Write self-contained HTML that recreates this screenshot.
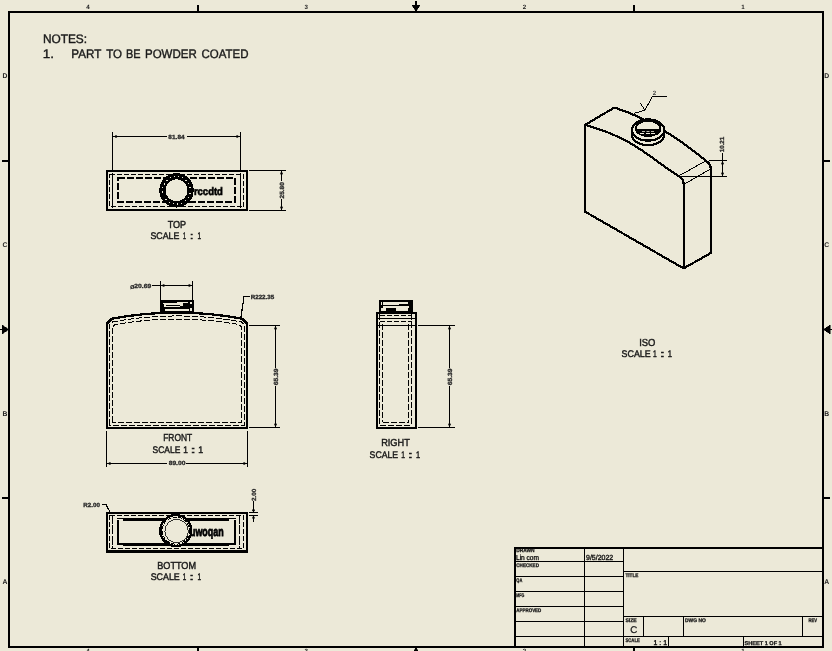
<!DOCTYPE html>
<html><head><meta charset="utf-8"><title>Drawing</title>
<style>
html,body{margin:0;padding:0;background:#ECE9D8;}
svg{display:block;will-change:transform;}
svg *{shape-rendering:crispEdges;}
text{shape-rendering:auto;text-rendering:geometricPrecision;}
text{font-family:"Liberation Sans",sans-serif;}
</style></head>
<body>
<svg width="832" height="651" viewBox="0 0 832 651">
<rect x="0" y="0" width="832" height="651" fill="#ECE9D8"/>
<g stroke="#000" fill="none" shape-rendering="crispEdges">
<rect x="9" y="12" width="814" height="635" stroke-width="2" fill="none"/>
<line x1="198" y1="5" x2="198" y2="11" stroke-width="2" />
<line x1="634" y1="5" x2="634" y2="11" stroke-width="2" />
<line x1="198" y1="648" x2="198" y2="651" stroke-width="2" />
<line x1="634" y1="648" x2="634" y2="651" stroke-width="2" />
<line x1="2" y1="161" x2="8" y2="161" stroke-width="2" />
<line x1="824" y1="161" x2="830" y2="161" stroke-width="2" />
<line x1="2" y1="498" x2="8" y2="498" stroke-width="2" />
<line x1="824" y1="498" x2="830" y2="498" stroke-width="2" />
</g>
<g fill="#000" stroke="#000">
<path d="M416 0.5 L416 6" stroke-width="1.6" fill="none" />
<path d="M412 5 L420 5 L416.5 11 L415.5 11 Z" stroke-width="0.5" fill="#000" />
<path d="M412 654 L420 654 L416.5 648 L415.5 648 Z" stroke-width="0.5" fill="#000" />
<path d="M0 329.5 L3 329.5" stroke-width="1.6" fill="none" />
<path d="M2 325 L2 334 L8 330 L8 329 Z" stroke-width="0.5" fill="#000" />
<path d="M832 329.5 L829 329.5" stroke-width="1.6" fill="none" />
<path d="M830 325 L830 334 L824 330 L824 329 Z" stroke-width="0.5" fill="#000" />
</g>
<g font-family="Liberation Sans" font-weight="bold" fill="#222">
<text x="88" y="9.4" font-size="6.2" text-anchor="middle" font-weight="bold" fill="#222" >4</text>
<text x="88" y="653.2" font-size="6.2" text-anchor="middle" font-weight="bold" fill="#222" >4</text>
<text x="306.3" y="9.4" font-size="6.2" text-anchor="middle" font-weight="bold" fill="#222" >3</text>
<text x="306.3" y="653.2" font-size="6.2" text-anchor="middle" font-weight="bold" fill="#222" >3</text>
<text x="524.4" y="9.4" font-size="6.2" text-anchor="middle" font-weight="bold" fill="#222" >2</text>
<text x="524.4" y="653.2" font-size="6.2" text-anchor="middle" font-weight="bold" fill="#222" >2</text>
<text x="742.9" y="9.4" font-size="6.2" text-anchor="middle" font-weight="bold" fill="#222" >1</text>
<text x="742.9" y="653.2" font-size="6.2" text-anchor="middle" font-weight="bold" fill="#222" >1</text>
<text x="5" y="77.9" font-size="6.8" text-anchor="middle" font-weight="bold" fill="#222" >D</text>
<text x="826.8" y="77.9" font-size="6.8" text-anchor="middle" font-weight="bold" fill="#222" >D</text>
<text x="5" y="246.9" font-size="6.8" text-anchor="middle" font-weight="bold" fill="#222" >C</text>
<text x="826.8" y="246.9" font-size="6.8" text-anchor="middle" font-weight="bold" fill="#222" >C</text>
<text x="5" y="415.9" font-size="6.8" text-anchor="middle" font-weight="bold" fill="#222" >B</text>
<text x="826.8" y="415.9" font-size="6.8" text-anchor="middle" font-weight="bold" fill="#222" >B</text>
<text x="5" y="583.9" font-size="6.8" text-anchor="middle" font-weight="bold" fill="#222" >A</text>
<text x="826.8" y="583.9" font-size="6.8" text-anchor="middle" font-weight="bold" fill="#222" >A</text>
</g>
<text x="42.93" y="42.9" font-size="12.3" font-weight="normal" fill="#1a1a1a" stroke="#1a1a1a" stroke-width="0.4" textLength="44.16" lengthAdjust="spacingAndGlyphs">NOTES:</text>
<text x="42.87" y="58.4" font-size="12.3" font-weight="normal" fill="#1a1a1a" stroke="#1a1a1a" stroke-width="0.4" textLength="11.26" lengthAdjust="spacingAndGlyphs">1.</text>
<text x="71.28" y="58.4" font-size="12.3" font-weight="normal" fill="#1a1a1a" stroke="#1a1a1a" stroke-width="0.4" textLength="29.98" lengthAdjust="spacingAndGlyphs">PART</text>
<text x="106.24" y="58.4" font-size="12.3" font-weight="normal" fill="#1a1a1a" stroke="#1a1a1a" stroke-width="0.4" textLength="15.8" lengthAdjust="spacingAndGlyphs">TO</text>
<text x="126.0" y="58.4" font-size="12.3" font-weight="normal" fill="#1a1a1a" stroke="#1a1a1a" stroke-width="0.4" textLength="14.56" lengthAdjust="spacingAndGlyphs">BE</text>
<text x="144.96" y="58.4" font-size="12.3" font-weight="normal" fill="#1a1a1a" stroke="#1a1a1a" stroke-width="0.4" textLength="51.78" lengthAdjust="spacingAndGlyphs">POWDER</text>
<text x="201.53" y="58.4" font-size="12.3" font-weight="normal" fill="#1a1a1a" stroke="#1a1a1a" stroke-width="0.4" textLength="47.01" lengthAdjust="spacingAndGlyphs">COATED</text>
<g stroke="#000" fill="none">
<rect x="107" y="171" width="140" height="39.3" stroke-width="2.1" fill="none" />
<rect x="109.5" y="174.5" width="134" height="32" stroke-width="1" fill="none" stroke-dasharray="5 2" />
<line x1="112.5" y1="173" x2="112.5" y2="208" stroke-width="1" />
<line x1="240.5" y1="173" x2="240.5" y2="208" stroke-width="1" />
<rect x="117.8" y="178.2" width="116.9" height="24" stroke-width="2.2" fill="none" stroke-dasharray="7 2" />
<circle cx="176.5" cy="190.3" r="15.8" stroke-width="2.8" fill="#ECE9D8"/>
<circle cx="176.5" cy="190.3" r="13.8" stroke-width="1.2" fill="none" stroke-dasharray="3 1.2"/>
<circle cx="176.5" cy="190.3" r="12.1" stroke-width="2.4" fill="#ECE9D8"/>
</g>
<text x="208.4" y="194.6" font-size="10.8" text-anchor="middle" font-weight="bold" fill="#000" stroke="#000" stroke-width="0.6" textLength="29" lengthAdjust="spacingAndGlyphs" >rccdtd</text>
<g stroke="#000" fill="none" shape-rendering="crispEdges">
<line x1="112.5" y1="132" x2="112.5" y2="170" stroke-width="1" />
<line x1="240.5" y1="132" x2="240.5" y2="170" stroke-width="1" />
<line x1="112.5" y1="136.5" x2="166.5" y2="136.5" stroke-width="1" />
<line x1="186.5" y1="136.5" x2="240.5" y2="136.5" stroke-width="1" />
<line x1="249" y1="170.5" x2="286" y2="170.5" stroke-width="1" />
<line x1="249" y1="210.5" x2="286" y2="210.5" stroke-width="1" />
<line x1="281.5" y1="170.5" x2="281.5" y2="181" stroke-width="1" />
<line x1="281.5" y1="199" x2="281.5" y2="210.5" stroke-width="1" />
</g>
<circle cx="116" cy="136.5" r="1.25" fill="#000" stroke="none" style="shape-rendering:auto"/>
<circle cx="237.2" cy="136.5" r="1.25" fill="#000" stroke="none" style="shape-rendering:auto"/>
<circle cx="281.5" cy="173.5" r="1.25" fill="#000" stroke="none" style="shape-rendering:auto"/>
<circle cx="281.5" cy="207.5" r="1.25" fill="#000" stroke="none" style="shape-rendering:auto"/>
<text x="168.39" y="138.6" font-size="6.0" text-anchor="start" font-weight="bold" fill="#2a2a2a" stroke="#2a2a2a" stroke-width="0.3" textLength="16.24" lengthAdjust="spacingAndGlyphs" >81.84</text>
<text x="-0.23" y="0" font-size="6.0" font-weight="bold" fill="#2a2a2a" stroke="#2a2a2a" stroke-width="0.3" textLength="16.4" lengthAdjust="spacingAndGlyphs" transform="translate(283.9 198.3) rotate(-90)">25.80</text>
<text x="167.7" y="227.5" font-size="10.2" text-anchor="start" font-weight="normal" fill="#1a1a1a" stroke="#1a1a1a" stroke-width="0.45" textLength="18.48" lengthAdjust="spacingAndGlyphs" >TOP</text>
<text x="150.5" y="238.6" font-size="9.6" text-anchor="start" font-weight="normal" fill="#1a1a1a" stroke="#1a1a1a" stroke-width="0.45" textLength="28.88" lengthAdjust="spacingAndGlyphs" >SCALE</text>
<text x="182.89" y="238.6" font-size="9.6" text-anchor="start" font-weight="normal" fill="#1a1a1a" stroke="#1a1a1a" stroke-width="0.45" textLength="2.97" lengthAdjust="spacingAndGlyphs" >1</text>
<text x="189.75" y="238.6" font-size="9.6" text-anchor="start" font-weight="normal" fill="#1a1a1a" stroke="#1a1a1a" stroke-width="0.45" textLength="3.79" lengthAdjust="spacingAndGlyphs" >:</text>
<text x="197.61" y="238.6" font-size="9.6" text-anchor="start" font-weight="normal" fill="#1a1a1a" stroke="#1a1a1a" stroke-width="0.45" textLength="3.61" lengthAdjust="spacingAndGlyphs" >1</text>
<g stroke="#000" fill="none">
<path d="M107.2 428.3 L107.2 323.2 L111.8 318.7 A353 353 0 0 1 242.2 318.7 L246.8 323.2 L246.8 428.3 Z" stroke-width="2.3" fill="none" />
<path d="M109.6 425.2 L109.6 324.6 L112.6 321.9 A353 353 0 0 1 241.4 321.9 L244.4 324.6 L244.4 425.2 Z" stroke-width="1" fill="none" stroke-dasharray="6 2" />
<path d="M112.4 422.4 L112.4 327 L115 324.6 A353 353 0 0 1 239 324.6 L241.6 327 L241.6 422.4 Z" stroke-width="1" fill="none" stroke-dasharray="6 2" />
<rect x="160" y="300" width="33.6" height="13" fill="#000" stroke="none"/>
<rect x="162.6" y="303" width="20.7" height="4" fill="#ECE9D8" stroke="none"/>
<rect x="177" y="302" width="10.5" height="1" fill="#ECE9D8" stroke="none"/>
<rect x="165" y="309" width="23.5" height="1.6" fill="#ECE9D8" stroke="none"/>
<rect x="190.2" y="302" width="1.6" height="2" fill="#ECE9D8" stroke="none"/>
<rect x="190.2" y="308.3" width="1.6" height="2.3" fill="#ECE9D8" stroke="none"/>
<path d="M166 305.5 L176 305.5 L183 306.5 M163.5 303.5 L163.5 307" stroke-width="1" fill="none" />
</g>
<g stroke="#000" fill="none" shape-rendering="crispEdges">
<line x1="160.5" y1="281" x2="160.5" y2="300" stroke-width="1" />
<line x1="192.5" y1="281" x2="192.5" y2="300" stroke-width="1" />
<line x1="152" y1="285.5" x2="192.5" y2="285.5" stroke-width="1" />
<line x1="249" y1="325.5" x2="280" y2="325.5" stroke-width="1" />
<line x1="249" y1="427.5" x2="280" y2="427.5" stroke-width="1" />
<line x1="275.5" y1="325.5" x2="275.5" y2="368" stroke-width="1" />
<line x1="275.5" y1="386" x2="275.5" y2="427.5" stroke-width="1" />
<line x1="106.5" y1="431" x2="106.5" y2="467" stroke-width="1" />
<line x1="247.5" y1="431" x2="247.5" y2="467" stroke-width="1" />
<line x1="106.5" y1="463.5" x2="167" y2="463.5" stroke-width="1" />
<line x1="186" y1="463.5" x2="247.5" y2="463.5" stroke-width="1" />
</g>
<g stroke="#000" fill="none">
<path d="M250 296.5 L244 296.5 L241 317" stroke-width="1.2" fill="none" />
</g>
<circle cx="163.6" cy="285.5" r="1.25" fill="#000" stroke="none" style="shape-rendering:auto"/>
<circle cx="189.4" cy="285.5" r="1.25" fill="#000" stroke="none" style="shape-rendering:auto"/>
<circle cx="275.5" cy="328.6" r="1.25" fill="#000" stroke="none" style="shape-rendering:auto"/>
<circle cx="275.5" cy="424.5" r="1.25" fill="#000" stroke="none" style="shape-rendering:auto"/>
<circle cx="109.8" cy="463.5" r="1.25" fill="#000" stroke="none" style="shape-rendering:auto"/>
<circle cx="244.2" cy="463.5" r="1.25" fill="#000" stroke="none" style="shape-rendering:auto"/>
<text x="134.37" y="288" font-size="6.0" text-anchor="start" font-weight="bold" fill="#2a2a2a" stroke="#2a2a2a" stroke-width="0.3" textLength="16.88" lengthAdjust="spacingAndGlyphs" >20.69</text>
<text x="132.3" y="288.6" font-size="7.5" text-anchor="middle" font-weight="bold" fill="#222" stroke="none" >&#248;</text>
<text x="250.68" y="298.9" font-size="6.0" text-anchor="start" font-weight="bold" fill="#2a2a2a" stroke="#2a2a2a" stroke-width="0.3" textLength="23.59" lengthAdjust="spacingAndGlyphs" >R222.35</text>
<text x="-0.25" y="0" font-size="6.0" font-weight="bold" fill="#2a2a2a" stroke="#2a2a2a" stroke-width="0.3" textLength="16.79" lengthAdjust="spacingAndGlyphs" transform="translate(277.6 385) rotate(-90)">65.39</text>
<text x="168.69" y="465.2" font-size="6.0" text-anchor="start" font-weight="bold" fill="#2a2a2a" stroke="#2a2a2a" stroke-width="0.3" textLength="16.69" lengthAdjust="spacingAndGlyphs" >89.00</text>
<text x="163.21" y="440.8" font-size="10.2" text-anchor="start" font-weight="normal" fill="#1a1a1a" stroke="#1a1a1a" stroke-width="0.45" textLength="28.98" lengthAdjust="spacingAndGlyphs" >FRONT</text>
<text x="152.62" y="452.6" font-size="9.6" text-anchor="start" font-weight="normal" fill="#1a1a1a" stroke="#1a1a1a" stroke-width="0.45" textLength="27.65" lengthAdjust="spacingAndGlyphs" >SCALE</text>
<text x="183.26" y="452.6" font-size="9.6" text-anchor="start" font-weight="normal" fill="#1a1a1a" stroke="#1a1a1a" stroke-width="0.45" textLength="4.64" lengthAdjust="spacingAndGlyphs" >1</text>
<text x="190.57" y="452.6" font-size="9.6" text-anchor="start" font-weight="normal" fill="#1a1a1a" stroke="#1a1a1a" stroke-width="0.45" textLength="5.25" lengthAdjust="spacingAndGlyphs" >:</text>
<text x="198.33" y="452.6" font-size="9.6" text-anchor="start" font-weight="normal" fill="#1a1a1a" stroke="#1a1a1a" stroke-width="0.45" textLength="4.9" lengthAdjust="spacingAndGlyphs" >1</text>
<g stroke="#000" fill="none">
<rect x="377.2" y="313" width="38.6" height="115.3" stroke-width="2.2" fill="none" />
<line x1="379.5" y1="314" x2="379.5" y2="425.2" stroke-width="1" stroke-dasharray="6 2" />
<line x1="411.5" y1="314" x2="411.5" y2="425.2" stroke-width="1" stroke-dasharray="6 2" />
<line x1="382.5" y1="324" x2="382.5" y2="422.4" stroke-width="1" stroke-dasharray="6 2" />
<line x1="408.7" y1="324" x2="408.7" y2="422.4" stroke-width="1" stroke-dasharray="6 2" />
<line x1="379.5" y1="315.7" x2="411.5" y2="315.7" stroke-width="1" stroke-dasharray="5 2" />
<line x1="379.5" y1="321.5" x2="411.5" y2="321.5" stroke-width="1" stroke-dasharray="5 2" />
<line x1="379.5" y1="425.2" x2="411.5" y2="425.2" stroke-width="1" stroke-dasharray="6 2" />
<line x1="382.5" y1="422.4" x2="408.7" y2="422.4" stroke-width="1" stroke-dasharray="6 2" />
<line x1="378" y1="318.7" x2="415" y2="318.7" stroke-width="1" />
<line x1="378" y1="325.5" x2="415" y2="325.5" stroke-width="1" />
<rect x="379.3" y="300.2" width="33.4" height="12.6" fill="#000" stroke="none"/>
<rect x="381" y="302" width="18" height="2.6" fill="#ECE9D8" stroke="none"/>
<rect x="399" y="302" width="9" height="1.5" fill="#ECE9D8" stroke="none"/>
<rect x="383" y="306.3" width="26.4" height="1.4" fill="#ECE9D8" stroke="none"/>
<rect x="396" y="307.7" width="12" height="2.9" fill="#ECE9D8" stroke="none"/>
<rect x="381" y="308" width="5" height="2.6" fill="#ECE9D8" stroke="none"/>
<path d="M382.5 302 L382.5 305" stroke-width="1" fill="none" />
</g>
<g stroke="#000" fill="none" shape-rendering="crispEdges">
<line x1="418" y1="325.5" x2="455" y2="325.5" stroke-width="1" />
<line x1="418" y1="427.5" x2="455" y2="427.5" stroke-width="1" />
<line x1="449.5" y1="325.5" x2="449.5" y2="368" stroke-width="1" />
<line x1="449.5" y1="386" x2="449.5" y2="427.5" stroke-width="1" />
</g>
<circle cx="449.5" cy="328.6" r="1.25" fill="#000" stroke="none" style="shape-rendering:auto"/>
<circle cx="449.5" cy="424.5" r="1.25" fill="#000" stroke="none" style="shape-rendering:auto"/>
<text x="-0.25" y="0" font-size="6.0" font-weight="bold" fill="#2a2a2a" stroke="#2a2a2a" stroke-width="0.3" textLength="16.79" lengthAdjust="spacingAndGlyphs" transform="translate(451.6 385) rotate(-90)">65.39</text>
<text x="381.14" y="445.8" font-size="10.2" text-anchor="start" font-weight="normal" fill="#1a1a1a" stroke="#1a1a1a" stroke-width="0.45" textLength="28.67" lengthAdjust="spacingAndGlyphs" >RIGHT</text>
<text x="369.61" y="457.8" font-size="9.6" text-anchor="start" font-weight="normal" fill="#1a1a1a" stroke="#1a1a1a" stroke-width="0.45" textLength="28.47" lengthAdjust="spacingAndGlyphs" >SCALE</text>
<text x="401.19" y="457.8" font-size="9.6" text-anchor="start" font-weight="normal" fill="#1a1a1a" stroke="#1a1a1a" stroke-width="0.45" textLength="3.74" lengthAdjust="spacingAndGlyphs" >1</text>
<text x="407.87" y="457.8" font-size="9.6" text-anchor="start" font-weight="normal" fill="#1a1a1a" stroke="#1a1a1a" stroke-width="0.45" textLength="5.25" lengthAdjust="spacingAndGlyphs" >:</text>
<text x="415.93" y="457.8" font-size="9.6" text-anchor="start" font-weight="normal" fill="#1a1a1a" stroke="#1a1a1a" stroke-width="0.45" textLength="4.13" lengthAdjust="spacingAndGlyphs" >1</text>
<g stroke="#000" fill="none">
<rect x="107.3" y="513.1" width="139.8" height="38.4" stroke-width="2.2" fill="none" />
<rect x="109.5" y="515.5" width="134" height="32.8" stroke-width="1" fill="none" stroke-dasharray="5 2" />
<line x1="112.8" y1="514.5" x2="112.8" y2="549" stroke-width="1" stroke-dasharray="9 1.5" />
<line x1="239.9" y1="514.5" x2="239.9" y2="549" stroke-width="1" stroke-dasharray="9 1.5" />
<line x1="117.8" y1="519.5" x2="117.8" y2="543.5" stroke-width="1.6" />
<line x1="235.1" y1="519.5" x2="235.1" y2="543.5" stroke-width="1.6" />
<line x1="117" y1="518.9" x2="123.4" y2="518.9" stroke-width="1.1" />
<line x1="229" y1="518.9" x2="236" y2="518.9" stroke-width="1.1" />
<line x1="123.4" y1="519.2" x2="229" y2="519.2" stroke-width="2.6" />
<line x1="117" y1="544" x2="123.4" y2="544" stroke-width="1.1" />
<line x1="229" y1="544" x2="236" y2="544" stroke-width="1.1" />
<line x1="123.4" y1="544.1" x2="229" y2="544.1" stroke-width="3" />
<circle cx="175.8" cy="530.6" r="15.5" stroke-width="2.4" fill="#ECE9D8"/>
<circle cx="175.8" cy="530.6" r="13.6" stroke-width="1" fill="none" stroke-dasharray="4 1.5"/>
<circle cx="176.6" cy="531" r="11.7" stroke-width="0.8" fill="#ECE9D8"/>
<path d="M160.5 526.8 L160.5 535.2" stroke-width="2.4" fill="none" />
</g>
<text x="206.8" y="536.2" font-size="13" text-anchor="middle" font-weight="bold" fill="#000" stroke="#000" stroke-width="0.8" textLength="33.6" lengthAdjust="spacingAndGlyphs" >uwoqan</text>
<g stroke="#000" fill="none">
<path d="M102 504.5 L106 504.5 L110 512" stroke-width="1.1" fill="none" />
</g>
<g stroke="#000" fill="none" shape-rendering="crispEdges">
<line x1="249" y1="512.5" x2="258" y2="512.5" stroke-width="1" />
<line x1="249" y1="515.5" x2="258" y2="515.5" stroke-width="1" />
<line x1="253.5" y1="501" x2="253.5" y2="512.5" stroke-width="1" />
<line x1="253.5" y1="515.5" x2="253.5" y2="522" stroke-width="1" />
</g>
<circle cx="253.5" cy="510.3" r="1.25" fill="#000" stroke="none" style="shape-rendering:auto"/>
<circle cx="253.5" cy="517.8" r="1.25" fill="#000" stroke="none" style="shape-rendering:auto"/>
<text x="83.28" y="506.7" font-size="6.0" text-anchor="start" font-weight="bold" fill="#2a2a2a" stroke="#2a2a2a" stroke-width="0.3" textLength="16.57" lengthAdjust="spacingAndGlyphs" >R2.00</text>
<text x="-0.22" y="0" font-size="6.0" font-weight="bold" fill="#2a2a2a" stroke="#2a2a2a" stroke-width="0.3" textLength="12.17" lengthAdjust="spacingAndGlyphs" transform="translate(256.3 500.7) rotate(-90)">2.00</text>
<text x="157.26" y="568.6" font-size="10.2" text-anchor="start" font-weight="normal" fill="#1a1a1a" stroke="#1a1a1a" stroke-width="0.45" textLength="38.79" lengthAdjust="spacingAndGlyphs" >BOTTOM</text>
<text x="150.7" y="580.3" font-size="9.6" text-anchor="start" font-weight="normal" fill="#1a1a1a" stroke="#1a1a1a" stroke-width="0.45" textLength="29.08" lengthAdjust="spacingAndGlyphs" >SCALE</text>
<text x="182.82" y="580.3" font-size="9.6" text-anchor="start" font-weight="normal" fill="#1a1a1a" stroke="#1a1a1a" stroke-width="0.45" textLength="3.48" lengthAdjust="spacingAndGlyphs" >1</text>
<text x="189.17" y="580.3" font-size="9.6" text-anchor="start" font-weight="normal" fill="#1a1a1a" stroke="#1a1a1a" stroke-width="0.45" textLength="4.67" lengthAdjust="spacingAndGlyphs" >:</text>
<text x="197.61" y="580.3" font-size="9.6" text-anchor="start" font-weight="normal" fill="#1a1a1a" stroke="#1a1a1a" stroke-width="0.45" textLength="3.61" lengthAdjust="spacingAndGlyphs" >1</text>
<g stroke="#000" fill="none" stroke-linejoin="round">
<path d="M584.8 126.8 L584.8 211.5 L683.6 268.4 L710.6 253.1 L710.6 167.5" stroke-width="2.2" fill="none" />
<path d="M683.6 268.4 L683.6 183" stroke-width="2.2" fill="none" />
<path d="M584.8 126.8 Q584.8 124.6 586.5 125.3 C636.7 139.3 652.8 160.7 679.8 176.85 Q683.6 179.1 683.6 183.5" stroke-width="2.2" fill="none" />
<path d="M585.6 124.6 L612.6 108.6 Q614.6 107.5 616.6 108.3 Q659.5 122.3 707.3 161.8 Q710.6 164.5 710.6 168" stroke-width="2.2" fill="none" />
<path d="M680.5 175 L705.2 161.2" stroke-width="1" fill="none" />
<path d="M684 184.3 L710.2 169.2" stroke-width="1" fill="none" />
<ellipse cx="648.05" cy="134.5" rx="16.2" ry="10.6" stroke-width="2.2" fill="#ECE9D8"/>
<rect x="632" y="130" width="32" height="4.5" stroke="none" fill="#ECE9D8"/>
<path d="M631.85 130 L631.85 134.5 M664.25 130 L664.25 134.5" stroke-width="2.2" fill="none" />
<ellipse cx="648.05" cy="130" rx="16.2" ry="10.6" stroke-width="2.2" fill="#ECE9D8"/>
<clipPath id="opn"><ellipse cx="648.1" cy="128.45" rx="12.35" ry="7.55"/></clipPath>
<ellipse cx="648.1" cy="128.45" rx="12.35" ry="7.55" stroke-width="2" fill="#ECE9D8"/>
<g clip-path="url(#opn)"><rect x="634" y="129" width="30" height="10" fill="#000" stroke="none"/><line x1="642" y1="131.5" x2="655" y2="131.5" stroke="#ECE9D8" stroke-width="0.8" stroke-dasharray="3 1.5"/><line x1="640" y1="133.8" x2="657" y2="133.8" stroke="#ECE9D8" stroke-width="1" stroke-dasharray="4 1.5"/></g>
</g>
<g stroke="#000" fill="none">
<path d="M667 96.5 L652.5 96.5 L644.7 110.3" stroke-width="1" fill="none" />
<path d="M640.5 103 L644.7 110.3 L634 113.3" stroke-width="1" fill="none" />
</g>
<text x="654.4" y="94.6" font-size="6.2" text-anchor="middle" font-weight="bold" fill="#444" stroke="none" >2</text>
<g stroke="#000" fill="none" shape-rendering="crispEdges">
<line x1="709" y1="160.5" x2="727" y2="160.5" stroke-width="1" />
<line x1="681" y1="176.5" x2="727" y2="176.5" stroke-width="1" />
<line x1="722.5" y1="153" x2="722.5" y2="176.5" stroke-width="1" />
</g>
<circle cx="722.5" cy="163.5" r="1.25" fill="#000" stroke="none" style="shape-rendering:auto"/>
<circle cx="722.5" cy="173.5" r="1.25" fill="#000" stroke="none" style="shape-rendering:auto"/>
<text x="-0.39" y="0" font-size="6.0" font-weight="bold" fill="#2a2a2a" stroke="#2a2a2a" stroke-width="0.3" textLength="15.56" lengthAdjust="spacingAndGlyphs" transform="translate(724.4 151.9) rotate(-90)">10.21</text>
<text x="639.23" y="345.6" font-size="10.2" text-anchor="start" font-weight="normal" fill="#1a1a1a" stroke="#1a1a1a" stroke-width="0.45" textLength="16.22" lengthAdjust="spacingAndGlyphs" >ISO</text>
<text x="621.6" y="357.4" font-size="9.6" text-anchor="start" font-weight="normal" fill="#1a1a1a" stroke="#1a1a1a" stroke-width="0.45" textLength="29.08" lengthAdjust="spacingAndGlyphs" >SCALE</text>
<text x="652.99" y="357.4" font-size="9.6" text-anchor="start" font-weight="normal" fill="#1a1a1a" stroke="#1a1a1a" stroke-width="0.45" textLength="3.74" lengthAdjust="spacingAndGlyphs" >1</text>
<text x="659.67" y="357.4" font-size="9.6" text-anchor="start" font-weight="normal" fill="#1a1a1a" stroke="#1a1a1a" stroke-width="0.45" textLength="5.25" lengthAdjust="spacingAndGlyphs" >:</text>
<text x="667.82" y="357.4" font-size="9.6" text-anchor="start" font-weight="normal" fill="#1a1a1a" stroke="#1a1a1a" stroke-width="0.45" textLength="4.26" lengthAdjust="spacingAndGlyphs" >1</text>
<g stroke="#000" fill="none" shape-rendering="crispEdges">
<line x1="514" y1="548" x2="823" y2="548" stroke-width="2" />
<line x1="515" y1="547" x2="515" y2="647" stroke-width="2" />
<line x1="584.5" y1="548" x2="584.5" y2="646" stroke-width="1" />
<line x1="623.5" y1="548" x2="623.5" y2="646" stroke-width="1" />
<line x1="515" y1="561.5" x2="623.5" y2="561.5" stroke-width="1" />
<line x1="515" y1="576.5" x2="623.5" y2="576.5" stroke-width="1" />
<line x1="515" y1="591.5" x2="623.5" y2="591.5" stroke-width="1" />
<line x1="515" y1="606.5" x2="623.5" y2="606.5" stroke-width="1" />
<line x1="515" y1="621.5" x2="623.5" y2="621.5" stroke-width="1" />
<line x1="515" y1="636.5" x2="623.5" y2="636.5" stroke-width="1" />
<line x1="623.5" y1="571.5" x2="823" y2="571.5" stroke-width="1" />
<line x1="623.5" y1="616.5" x2="823" y2="616.5" stroke-width="1" />
<line x1="623.5" y1="636.5" x2="823" y2="636.5" stroke-width="1" />
<line x1="643.5" y1="616.5" x2="643.5" y2="636.5" stroke-width="1" />
<line x1="683.5" y1="616.5" x2="683.5" y2="636.5" stroke-width="1" />
<line x1="802.5" y1="616.5" x2="802.5" y2="636.5" stroke-width="1" />
<line x1="668.5" y1="636.5" x2="668.5" y2="646" stroke-width="1" />
<line x1="743.5" y1="636.5" x2="743.5" y2="646" stroke-width="1" />
</g>
<text x="516.3" y="552.3" font-size="5.2" text-anchor="start" font-weight="bold" fill="#111" stroke="#111" stroke-width="0.25" textLength="18.3" lengthAdjust="spacingAndGlyphs" >DRAWN</text>
<text x="516" y="560.4" font-size="7.2" text-anchor="start" font-weight="normal" fill="#111" stroke="#111" stroke-width="0.35" textLength="23" lengthAdjust="spacingAndGlyphs" >Lin com</text>
<text x="586" y="559.9" font-size="7.4" text-anchor="start" font-weight="normal" fill="#111" stroke="#111" stroke-width="0.35" textLength="27.2" lengthAdjust="spacingAndGlyphs" >9/5/2022</text>
<text x="516.3" y="566.7" font-size="5.2" text-anchor="start" font-weight="bold" fill="#111" stroke="#111" stroke-width="0.25" textLength="22.7" lengthAdjust="spacingAndGlyphs" >CHECKED</text>
<text x="516.3" y="582" font-size="5.2" text-anchor="start" font-weight="bold" fill="#111" stroke="#111" stroke-width="0.25" textLength="6" lengthAdjust="spacingAndGlyphs" >QA</text>
<text x="516.3" y="597" font-size="5.2" text-anchor="start" font-weight="bold" fill="#111" stroke="#111" stroke-width="0.25" textLength="8" lengthAdjust="spacingAndGlyphs" >MFG</text>
<text x="516.3" y="612" font-size="5.2" text-anchor="start" font-weight="bold" fill="#111" stroke="#111" stroke-width="0.25" textLength="25" lengthAdjust="spacingAndGlyphs" >APPROVED</text>
<text x="625.4" y="576.8" font-size="5.2" text-anchor="start" font-weight="bold" fill="#111" stroke="#111" stroke-width="0.25" textLength="13" lengthAdjust="spacingAndGlyphs" >TITLE</text>
<text x="625.4" y="621.5" font-size="5.2" text-anchor="start" font-weight="bold" fill="#111" stroke="#111" stroke-width="0.25" textLength="11.3" lengthAdjust="spacingAndGlyphs" >SIZE</text>
<text x="633.7" y="633" font-size="9.7" text-anchor="middle" font-weight="normal" fill="#222" stroke="#222" stroke-width="0.3" >C</text>
<text x="625.4" y="641.6" font-size="5.2" text-anchor="start" font-weight="bold" fill="#111" stroke="#111" stroke-width="0.25" textLength="14.5" lengthAdjust="spacingAndGlyphs" >SCALE</text>
<text x="660.3" y="645" font-size="6.9" text-anchor="middle" font-weight="normal" fill="#111" stroke="#111" stroke-width="0.4" textLength="13.4" lengthAdjust="spacingAndGlyphs" >1 : 1</text>
<text x="685" y="621.5" font-size="5.2" text-anchor="start" font-weight="bold" fill="#111" stroke="#111" stroke-width="0.25" textLength="20.8" lengthAdjust="spacingAndGlyphs" >DWG NO</text>
<text x="808.4" y="621.5" font-size="5.2" text-anchor="start" font-weight="bold" fill="#111" stroke="#111" stroke-width="0.25" textLength="8.6" lengthAdjust="spacingAndGlyphs" >REV</text>
<text x="744.5" y="644.6" font-size="5.6" text-anchor="start" font-weight="bold" fill="#111" stroke="#111" stroke-width="0.25" textLength="37.2" lengthAdjust="spacingAndGlyphs" >SHEET 1  OF 1</text>
</svg>
</body></html>
